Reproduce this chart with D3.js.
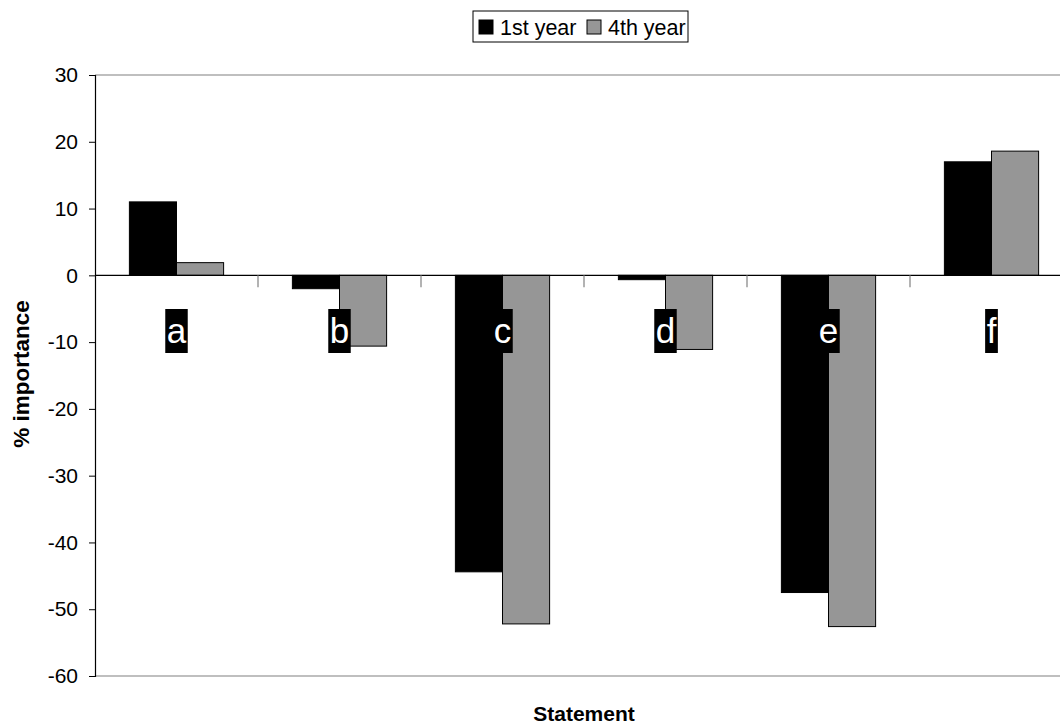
<!DOCTYPE html>
<html><head><meta charset="utf-8">
<script src="https://cdn.jsdelivr.net/npm/d3@7"></script>
<style>body{margin:0;background:#fff}svg{display:block;font-family:Arial,"Liberation Sans",sans-serif}</style>
</head><body><svg id="c" width="1060" height="724"></svg>
<script>
const categories = ["a","b","c","d","e","f"];
const seriesNames = ["1st year","4th year"];
const firstYear = [11, -2, -44.4, -0.65, -47.5, 17];
const fourthYear = [1.9, -10.6, -52.2, -11.1, -52.6, 18.6];
const yTicks = [30,20,10,0,-10,-20,-30,-40,-50,-60];
const colors = ["#000000","#969696"];

(function(){
const svg = d3.select("#c");
const pL = 95, pR = 1073, pT = 75, pB = 676;
const x = d3.scaleBand().domain(categories).range([pL, pR]).paddingInner(0).paddingOuter(0);
const xs = d3.scaleBand().domain(seriesNames).range([0, x.bandwidth()]).paddingInner(0).paddingOuter(0.73);
const y = d3.scaleLinear().domain([-60, 30]).range([pB, pT]);

svg.append("line").attr("x1", pL).attr("x2", 1060).attr("y1", y(30)).attr("y2", y(30)).attr("stroke", "#808080").attr("stroke-width", 1.2);
svg.append("line").attr("x1", pL).attr("x2", 1060).attr("y1", y(-60)).attr("y2", y(-60)).attr("stroke", "#808080").attr("stroke-width", 1.2);

const data = categories.map((c, i) => ({c, vals: [firstYear[i], fourthYear[i]]}));
const g = svg.append("g");
data.forEach(d => {
  d.vals.forEach((v, j) => {
    g.append("rect")
      .attr("x", x(d.c) + xs(seriesNames[j]))
      .attr("width", xs.bandwidth())
      .attr("y", y(Math.max(0, v)))
      .attr("height", Math.abs(y(v) - y(0)))
      .attr("fill", colors[j])
      .attr("stroke", "#000").attr("stroke-width", 1);
  });
});

svg.append("line").attr("x1", pL).attr("x2", 1060).attr("y1", y(0)).attr("y2", y(0)).attr("stroke", "#000").attr("stroke-width", 1.2);
svg.append("g").selectAll("line").data(categories.slice(1)).join("line")
  .attr("x1", d => x(d)).attr("x2", d => x(d)).attr("y1", y(0)).attr("y2", y(0) + 12)
  .attr("stroke", "#808080").attr("stroke-width", 1.2);

const yAxis = d3.axisLeft(y).tickValues(yTicks).tickSize(6).tickPadding(11).tickFormat(d => String(d));
const ya = svg.append("g").attr("transform", `translate(${pL},0)`).call(yAxis);
ya.select(".domain").attr("stroke", "#000").attr("stroke-width", 1.2);
ya.selectAll(".tick line").attr("stroke", "#000");
ya.selectAll("text").attr("font-size", 21).attr("fill", "#000").attr("font-family", "Arial, 'Liberation Sans', sans-serif");

const lab = svg.append("g");
const fs = 35;
categories.forEach(c => {
  const cx = x(c) + x.bandwidth() / 2;
  const t = lab.append("text").attr("text-anchor", "middle")
    .attr("x", cx).attr("y", 343)
    .attr("font-size", fs).attr("fill", "#fff").text(c);
  const w = t.node().getComputedTextLength();
  lab.insert("rect", "text").attr("x", cx - w / 2 - 1.5).attr("y", 309)
    .attr("width", w + 3).attr("height", 44).attr("fill", "#000");
});

svg.append("text").attr("transform", "translate(29,374) rotate(-90)").attr("text-anchor", "middle")
  .attr("font-size", 22.5).attr("font-weight", "bold").text("% importance");
svg.append("text").attr("x", 584).attr("y", 721).attr("text-anchor", "middle")
  .attr("font-size", 21).attr("font-weight", "bold").text("Statement");

const lg = svg.append("g");
lg.append("rect").attr("x", 473).attr("y", 11).attr("width", 215).attr("height", 31)
  .attr("fill", "#fff").attr("stroke", "#000").attr("stroke-width", 1);
const lx = [479, 587];
seriesNames.forEach((s, i) => {
  lg.append("rect").attr("x", lx[i]).attr("y", 20).attr("width", 14).attr("height", 14)
    .attr("fill", colors[i]).attr("stroke", "#000").attr("stroke-width", 1);
  lg.append("text").attr("x", lx[i] + 21).attr("y", 35).attr("font-size", 21.5).text(s);
});
})();
</script></body></html>
